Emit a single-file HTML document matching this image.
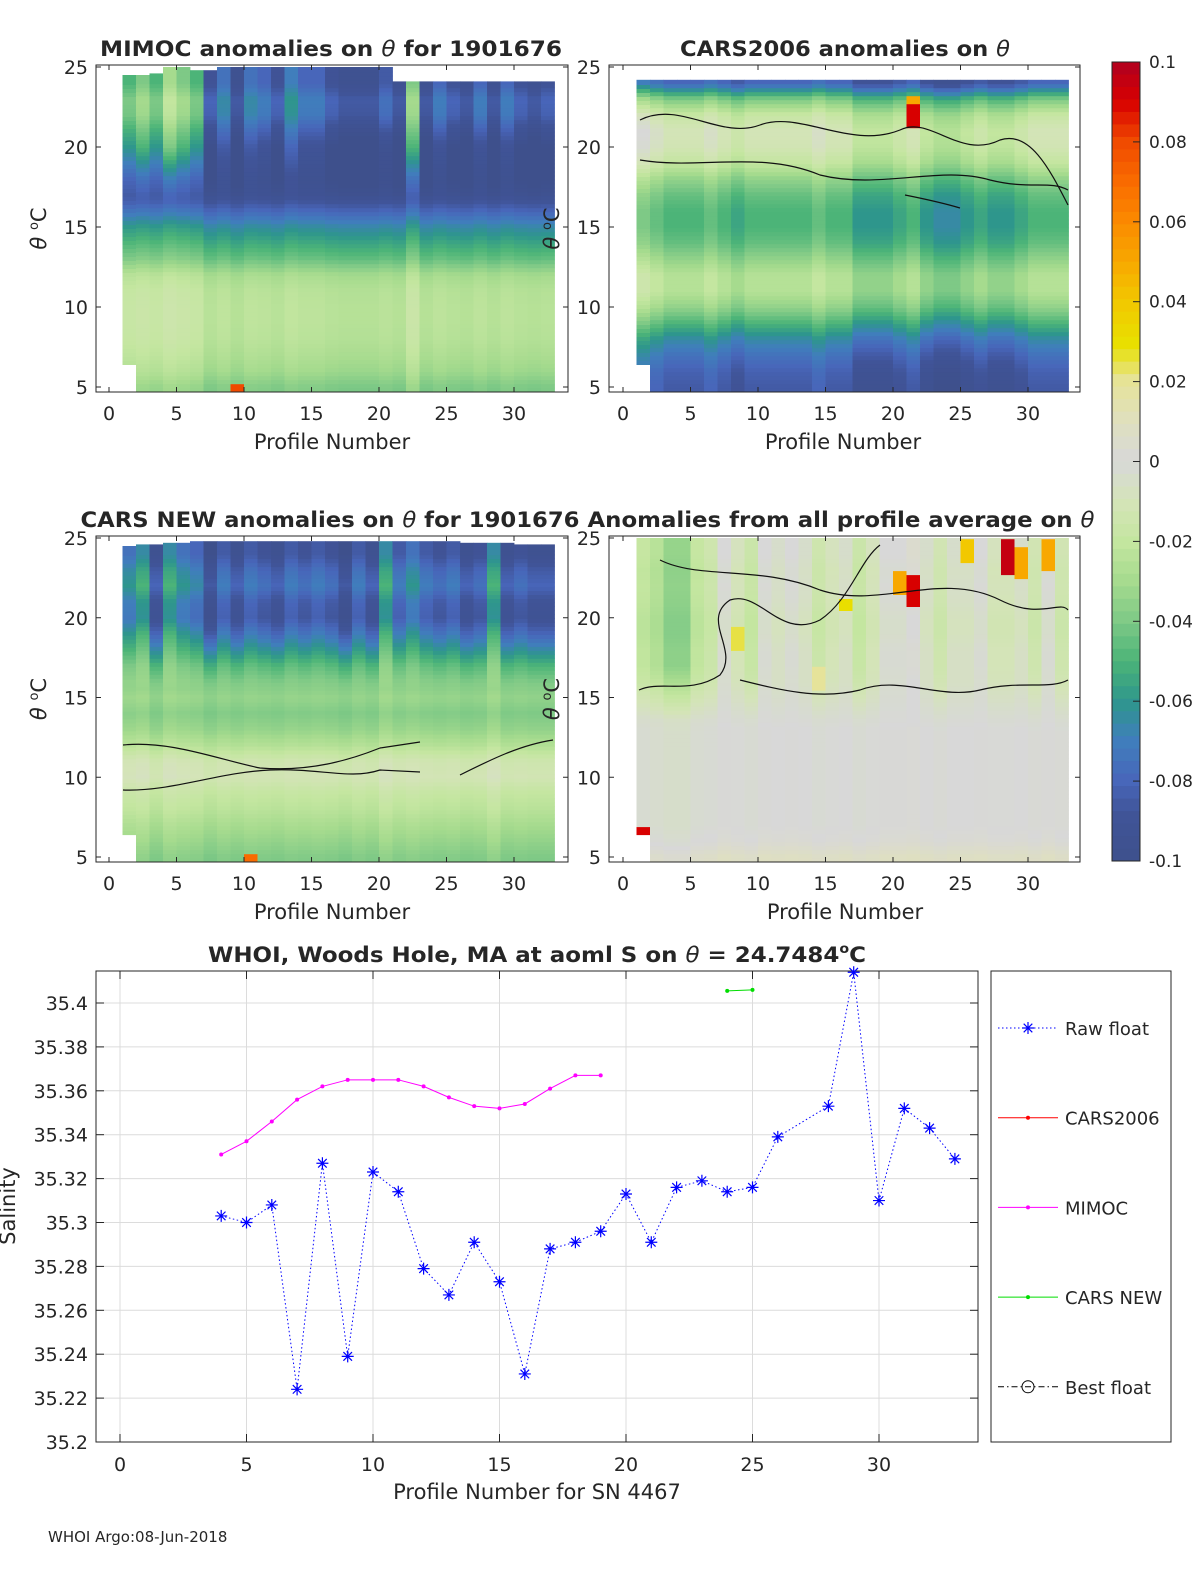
<!DOCTYPE html>
<html><head><meta charset="utf-8"><style>
html,body{margin:0;padding:0;background:#fff;}
svg text{font-family:"DejaVu Sans","Liberation Sans",sans-serif;fill:#262626;}
</style></head><body>
<svg id="fig" width="1200" height="1575" viewBox="0 0 1200 1575" xmlns="http://www.w3.org/2000/svg">
<defs>
<clipPath id="c1"><rect x="96" y="65" width="472" height="327"/></clipPath>
<clipPath id="c2"><rect x="609" y="65" width="471" height="327"/></clipPath>
<clipPath id="c3"><rect x="96" y="536" width="472" height="326"/></clipPath>
<clipPath id="c4"><rect x="609" y="536" width="471" height="326"/></clipPath>
</defs>
<g id="layer"></g>
</svg>
<script>
// ---------- data ----------
const thetaLevels = [5,6,7,8,9,10,11,12,13,14,15,16,17,18,19,20,21,22,23,24,25];
const mimocBase = [-0.04,-0.032,-0.028,-0.025,-0.024,-0.024,-0.025,-0.03,-0.045,-0.055,-0.065,-0.08,-0.095,-0.1,-0.1,-0.1,-0.092,-0.082,-0.08,-0.09,-0.09];
const cars06Base = [-0.085,-0.082,-0.075,-0.065,-0.05,-0.035,-0.025,-0.025,-0.035,-0.045,-0.05,-0.05,-0.045,-0.035,-0.02,-0.012,-0.01,-0.018,-0.04,-0.08,-0.08];
const carsNewBase = [-0.04,-0.035,-0.03,-0.024,-0.02,-0.012,-0.014,-0.026,-0.035,-0.04,-0.035,-0.04,-0.05,-0.065,-0.08,-0.092,-0.09,-0.08,-0.085,-0.095,-0.095];
const avgBase = [0.008,0.002,0,0,0,0,0,0,0,-0.002,-0.004,-0.006,-0.006,-0.006,-0.008,-0.008,-0.006,-0.005,-0.006,-0.004,-0.004];
// per-profile-column offsets (32 columns, profiles 1..33)
const mimocOff = [0.04,0.05,0.04,0.06,0.05,0.04,0,0.015,-0.005,0.015,0.01,0,0.02,0.01,0.01,0,-0.005,-0.005,-0.005,0.005,-0.005,0.05,-0.005,0.01,0,-0.005,0.01,-0.005,0.01,0,-0.005,0];
const cars06Off = [0.01,0.005,0,0,0,0.005,0,-0.005,0,0,0,0,0,0.005,0,0,-0.01,-0.01,-0.01,-0.005,0,-0.01,-0.015,-0.015,-0.01,-0.005,-0.01,-0.01,-0.005,0,0,0];
const carsNewOff = [0.02,0.03,0,0.03,0.02,0.015,-0.005,0.01,0,0.01,0.005,0,0.01,0.005,0.01,0.005,-0.005,0.01,0,0.03,0.01,0.02,0.01,0.005,0.01,0,0.005,0.03,0,0.005,0,0];
const avgOff = [-0.015,-0.02,-0.03,-0.03,-0.015,-0.01,0.004,-0.004,-0.012,0.004,0,0.004,0,-0.01,-0.004,0,-0.012,-0.004,0.004,0.004,0.008,0,-0.008,0,0,0.004,-0.004,-0.004,0,-0.008,0.004,-0.008];
const colTop1 = [24.5,24.5,24.6,25,25,24.8,24.8,25,25,25,25,25,25,25,25,25,25,25,25,25,24.1,24.1,24.1,24.1,24.1,24.1,24.1,24.1,24.1,24.1,24.1,24.1];
const colTop2 = [24.2,24.2,24.2,24.2,24.2,24.2,24.2,24.2,24.2,24.2,24.2,24.2,24.2,24.2,24.2,24.2,24.2,24.2,24.2,24.2,24.2,24.2,24.2,24.2,24.2,24.2,24.2,24.2,24.2,24.2,24.2,24.2];
const colTop3 = [24.5,24.6,24.6,24.7,24.7,24.8,24.8,24.8,24.8,24.8,24.8,24.8,24.8,24.8,24.8,24.8,24.8,24.8,24.8,24.8,24.8,24.8,24.8,24.8,24.8,24.7,24.7,24.7,24.7,24.6,24.6,24.6];
const colTop4 = [25,25,25,25,25,25,25,25,25,25,25,25,25,25,25,25,25,25,25,25,25,25,25,25,25,25,25,25,25,25,25,25];
// hot spots: [column index, theta low, theta high, value]
const patches1 = [[1,4.8,6.2,0.07],[9,4.8,5.1,0.08]];
const patches2 = [[1,4.8,6.2,0.06],[21,21.2,22.7,0.09],[21,22.7,23.2,0.05]];
const patches3 = [[1,4.8,6.2,0.05],[10,4.8,5.1,0.07]];
const patches4 = [[1,4.8,7,0.09],[21,20.8,22.8,0.09],[20,21.5,23,0.05],[28,22.8,25,0.095],[29,22.5,24.5,0.05],[31,23,25,0.05],[25,23.5,25,0.04],[8,18,19.5,0.025],[14,15.5,17,0.02],[16,20.5,21.3,0.03]];

// salinity chart data
const rawProfiles = [4,5,6,7,8,9,10,11,12,13,14,15,16,17,18,19,20,21,22,23,24,25,26,28,29,30,31,32,33];
const rawSal = [35.303,35.300,35.308,35.224,35.327,35.239,35.323,35.314,35.279,35.267,35.291,35.273,35.231,35.288,35.291,35.296,35.313,35.291,35.316,35.319,35.314,35.316,35.339,35.353,35.414,35.310,35.352,35.343,35.329];
const mimocProfiles = [4,5,6,7,8,9,10,11,12,13,14,15,16,17,18,19];
const mimocSal = [35.331,35.337,35.346,35.356,35.362,35.365,35.365,35.365,35.362,35.357,35.353,35.352,35.354,35.361,35.367,35.367];
const carsNewProfiles = [24,25];
const carsNewSal = [35.4055,35.406];
const xTicks = [0,5,10,15,20,25,30];
const yTicksSal = [35.2,35.22,35.24,35.26,35.28,35.3,35.32,35.34,35.36,35.38,35.4];
const yTickLabels = ["35.2","35.22","35.24","35.26","35.28","35.3","35.32","35.34","35.36","35.38","35.4"];
const thetaTicks = [5,10,15,20,25];
const cbTicks = [0.1,0.08,0.06,0.04,0.02,0,-0.02,-0.04,-0.06,-0.08,-0.1];

// ---------- helpers ----------
const NS="http://www.w3.org/2000/svg";
const layer=document.getElementById('layer');
function mk(tag,attrs,parent){const e=document.createElementNS(NS,tag);for(const k in attrs)e.setAttribute(k,attrs[k]);(parent||layer).appendChild(e);return e;}
const cmapStops=[[-0.1,[62,80,140]],[-0.088,[64,84,152]],[-0.08,[72,102,186]],[-0.07,[64,126,188]],[-0.06,[46,150,140]],[-0.05,[76,180,120]],[-0.04,[126,201,134]],[-0.03,[166,219,142]],[-0.02,[196,230,160]],[-0.01,[212,228,184]],[0,[216,216,216]],[0.01,[223,224,190]],[0.02,[230,227,154]],[0.029,[232,224,0]],[0.04,[242,200,0]],[0.05,[248,168,0]],[0.06,[251,138,0]],[0.07,[249,107,0]],[0.08,[240,74,0]],[0.09,[216,0,0]],[0.1,[176,0,32]]];
function cmap(v){v=Math.max(-0.1,Math.min(0.1,v));for(let i=0;i<cmapStops.length-1;i++){const a=cmapStops[i],b=cmapStops[i+1];if(v<=b[0]){const f=(v-a[0])/(b[0]-a[0]);const c=a[1].map((x,j)=>Math.round(x+(b[1][j]-x)*f));return `rgb(${c})`;}}return 'rgb(176,0,32)';}
function interp(base,t){const i=Math.max(0,Math.min(base.length-2,Math.floor(t-5)));const f=(t-5)-i;return base[i]+(base[i+1]-base[i])*Math.max(0,Math.min(1,f));}

function panel(cfg){
  const g=mk('g',{});
  
  
  const xs=p=>cfg.x0+p*13.5;
  const ys=t=>cfg.y5-(t-5)*cfg.py;
  const hm=mk('g',{'clip-path':`url(#${cfg.clip})`},g);
  
  
  for(let c=0;c<32;c++){
    const bottom=(c===0)?6.4:4.7;
    for(let t=bottom;t<cfg.tops[c];t+=0.25){
      const tm=t+0.125;
      const w=(cfg.offFrom!==undefined)?Math.max(0.15,Math.min(1,(tm-cfg.offFrom+2)/4)):1;
      let v=interp(cfg.base,tm)+cfg.off[c]*w;
      cfg.patches.forEach(p=>{if(c===p[0]-1&&tm>=p[1]&&tm<=p[2])v=p[3];});
      const top=Math.min(t+0.25,cfg.tops[c]);
      const r=mk('rect',{x:xs(c+1).toFixed(1),y:ys(top).toFixed(1),width:13.9,height:(ys(t)-ys(top)+0.4).toFixed(1),fill:cmap(v)},hm);
      
      
    }
  }
  if(cfg.contours){cfg.contours.forEach(d=>mk('path',{d:d,fill:'none',stroke:'#111','stroke-width':1.2},hm));}
  const box=mk('rect',{x:cfg.bx,y:cfg.by,width:cfg.bw,height:cfg.bh,fill:'none',stroke:'#262626','stroke-width':1},g);
  
  
  xTicks.forEach((v,i)=>{const x=xs(v);
    mk('line',{x1:x,x2:x,y1:cfg.by+cfg.bh,y2:cfg.by+cfg.bh-5,stroke:'#262626'},g);
    mk('line',{x1:x,x2:x,y1:cfg.by,y2:cfg.by+5,stroke:'#262626'},g);
    const t=mk('text',{x:x,y:cfg.by+cfg.bh+28,'text-anchor':'middle','font-size':19},g);t.textContent=v;
    
    });
  thetaTicks.forEach(v=>{const y=ys(v);
    mk('line',{x1:cfg.bx,x2:cfg.bx+5,y1:y,y2:y,stroke:'#262626'},g);
    mk('line',{x1:cfg.bx+cfg.bw,x2:cfg.bx+cfg.bw-5,y1:y,y2:y,stroke:'#262626'},g);
    const t=mk('text',{x:cfg.bx-8,y:y+7,'text-anchor':'end','font-size':19},g);t.textContent=v;
    
    });
  const xl=mk('text',{x:cfg.xlx,y:cfg.by+cfg.bh+57,'text-anchor':'middle','font-size':21},g);xl.textContent='Profile Number';
  
  
  const yl=mk('text',{x:0,y:0,'text-anchor':'middle','font-size':21,transform:`translate(${cfg.ylx},${cfg.by+cfg.bh/2}) rotate(-90)`},g);
  yl.innerHTML='<tspan font-style="italic">θ</tspan> <tspan font-size="13" dy="-8">o</tspan><tspan dy="8">C</tspan>';
  
  
  const ti=mk('text',{x:cfg.tx,y:cfg.ty,'text-anchor':'middle','font-size':21,'font-weight':'bold',textLength:cfg.tl,lengthAdjust:'spacingAndGlyphs'},g);
  ti.innerHTML=cfg.title;
  
  
}
const th='<tspan font-style="italic" font-weight="normal">θ</tspan>';
panel({name:'mimoc-panel',clip:'c1',x0:109,y5:387,py:16,bx:96,by:65,bw:472,bh:327,base:mimocBase,off:mimocOff,offFrom:18,tops:colTop1,patches:patches1,xlx:332,ylx:46,tx:331,ty:56,tl:462,title:'MIMOC anomalies on '+th+'  for 1901676'});
panel({name:'cars2006-panel',clip:'c2',x0:623,y5:387,py:16,bx:609,by:65,bw:471,bh:327,base:cars06Base,off:cars06Off,tops:colTop2,patches:patches2,xlx:843,ylx:559,tx:845,ty:56,tl:330,title:'CARS2006 anomalies on '+th,
 contours:['M640,120 C680,100 720,140 760,125 C800,110 850,150 900,130 C930,115 960,160 1000,140 C1030,130 1050,170 1068,205','M640,160 C700,170 760,150 820,175 C880,190 940,165 990,180 C1030,190 1050,180 1068,190','M905,195 C930,200 950,205 960,208']});
panel({name:'cars-new-panel',clip:'c3',x0:109,y5:857,py:15.95,bx:96,by:536,bw:472,bh:326,base:carsNewBase,off:carsNewOff,offFrom:17,tops:colTop3,patches:patches3,xlx:332,ylx:46,tx:330,ty:527,tl:499,title:'CARS NEW anomalies on '+th+' for 1901676',
 contours:['M123,745 C170,740 220,760 260,768 C310,772 350,760 380,748 L420,742','M123,790 C170,792 220,772 270,770 C320,768 350,780 380,770 L420,772','M460,775 C490,760 520,745 553,740']});
panel({name:'average-panel',clip:'c4',x0:623,y5:857,py:15.95,bx:609,by:536,bw:471,bh:326,base:avgBase,off:avgOff,offFrom:15,tops:colTop4,patches:patches4,xlx:845,ylx:559,tx:841,ty:527,tl:507,title:'Anomalies from all profile average on '+th,
 contours:['M639,690 C660,680 690,695 720,675 C740,650 700,620 730,600 C760,590 780,640 820,620 C850,600 860,560 880,545','M740,680 C780,690 820,700 860,690 C900,675 940,700 980,690 C1020,680 1050,690 1068,680','M660,560 C700,580 760,565 820,590 C880,610 940,570 1000,600 C1040,620 1060,600 1068,610']});

// colorbar
(function(){
  const g=mk('g',{});
  
  
  const y0=62,y1=861,n=64;
  for(let i=0;i<n;i++){const v=0.1-(i+0.5)*0.2/n;
    mk('rect',{x:1112,y:(y0+i*(y1-y0)/n).toFixed(2),width:28,height:((y1-y0)/n+0.5).toFixed(2),fill:cmap(v)},g);}
  mk('rect',{x:1112,y:y0,width:28,height:y1-y0,fill:'none',stroke:'#262626'},g);
  cbTicks.forEach(v=>{const y=y0+(0.1-v)/0.2*(y1-y0);
    mk('line',{x1:1133,x2:1140,y1:y,y2:y,stroke:'#262626'},g);
    const t=mk('text',{x:1149,y:y+6,'font-size':17},g);t.textContent=v===0?'0':String(v);
    
    });
})();

// salinity chart
(function(){
  const g=mk('g',{});
  
  
  const X=p=>120+p*25.3, Y=s=>1442-(s-35.2)*2195;
  mk('rect',{x:96,y:971,width:882,height:471,fill:'#fff',stroke:'none'},g);
  xTicks.forEach(v=>{mk('line',{x1:X(v),x2:X(v),y1:971,y2:1442,stroke:'#dcdcdc'},g);});
  yTicksSal.forEach(v=>{mk('line',{x1:96,x2:978,y1:Y(v),y2:Y(v),stroke:'#dcdcdc'},g);});
  mk('rect',{x:96,y:971,width:882,height:471,fill:'none',stroke:'#262626'},g);
  xTicks.forEach(v=>{const x=X(v);mk('line',{x1:x,x2:x,y1:1442,y2:1434,stroke:'#262626'},g);mk('line',{x1:x,x2:x,y1:971,y2:979,stroke:'#262626'},g);
    const t=mk('text',{x:x,y:1471,'text-anchor':'middle','font-size':19},g);t.textContent=v;
    
    });
  yTicksSal.forEach((v,i)=>{const y=Y(v);mk('line',{x1:96,x2:104,y1:y,y2:y,stroke:'#262626'},g);mk('line',{x1:978,x2:970,y1:y,y2:y,stroke:'#262626'},g);
    const t=mk('text',{x:88,y:y+7,'text-anchor':'end','font-size':19},g);t.textContent=yTickLabels[i];
    
    });
  const mp=mk('polyline',{points:mimocProfiles.map((p,i)=>X(p)+','+Y(mimocSal[i])).join(' '),fill:'none',stroke:'#ff00ff','stroke-width':1},g);
  
  
  mimocProfiles.forEach((p,i)=>{const c=mk('circle',{cx:X(p),cy:Y(mimocSal[i]),r:2,fill:'#ff00ff'},g);
    
    });
  const cp=mk('polyline',{points:carsNewProfiles.map((p,i)=>X(p)+','+Y(carsNewSal[i])).join(' '),fill:'none',stroke:'#00dd00','stroke-width':1},g);
  
  
  carsNewProfiles.forEach((p,i)=>{const c=mk('circle',{cx:X(p),cy:Y(carsNewSal[i]),r:2,fill:'#00dd00'},g);
    
    });
  const rp=mk('polyline',{points:rawProfiles.map((p,i)=>X(p)+','+Y(rawSal[i])).join(' '),fill:'none',stroke:'#0000ff','stroke-width':1,'stroke-dasharray':'1.5,2.5'},g);
  
  
  function star(x,y,par){const s=mk('path',{d:`M${x-6},${y}H${x+6}M${x},${y-6}V${y+6}M${x-4.3},${y-4.3}L${x+4.3},${y+4.3}M${x-4.3},${y+4.3}L${x+4.3},${y-4.3}`,stroke:'#0000ff','stroke-width':1.2,fill:'none'},par);return s;}
  rawProfiles.forEach((p,i)=>{const s=star(X(p),Y(rawSal[i]),g);
    
    });
  const t=mk('text',{x:537,y:962,'text-anchor':'middle','font-size':21,'font-weight':'bold',textLength:658,lengthAdjust:'spacingAndGlyphs'},g);
  t.innerHTML='WHOI, Woods Hole, MA at aoml S on <tspan font-style="italic" font-weight="normal">θ</tspan> = 24.7484<tspan font-size="13" dy="-9">o</tspan><tspan dy="9">C</tspan>';
  
  
  const xl=mk('text',{x:537,y:1499,'text-anchor':'middle','font-size':21},g);xl.textContent='Profile Number for SN 4467';
  
  
  const yl=mk('text',{x:0,y:0,'text-anchor':'middle','font-size':21,transform:'translate(15,1206) rotate(-90)'},g);yl.textContent='Salinity';
  
  
  const lg=mk('g',{},g);
  
  
  mk('rect',{x:991,y:971,width:180,height:471,fill:'#fff',stroke:'#262626'},lg);
  const entries=[['Raw float','#0000ff','1.5,2.5','star'],['CARS2006','#ff0000','','dot'],['MIMOC','#ff00ff','','dot'],['CARS NEW','#00dd00','','dot'],['Best float','#000','6,3,1.5,3','circle']];
  entries.forEach((e,i)=>{const y=1028+i*89.7;
    const eg=mk('g',{},lg);
    
    
    mk('line',{x1:998,x2:1058,y1:y,y2:y,stroke:e[1],'stroke-dasharray':e[2]},eg);
    if(e[3]==='star')star(1028,y,eg);
    else if(e[3]==='dot')mk('circle',{cx:1028,cy:y,r:2,fill:e[1]},eg);
    else mk('circle',{cx:1028,cy:y,r:6,fill:'none',stroke:'#000'},eg);
    const tx=mk('text',{x:1065,y:y+7,'font-size':18},eg);tx.textContent=e[0];});
})();
const foot=mk('text',{x:48,y:1542,'font-size':15});
foot.textContent='WHOI Argo:08-Jun-2018';


</script>
</body></html>
